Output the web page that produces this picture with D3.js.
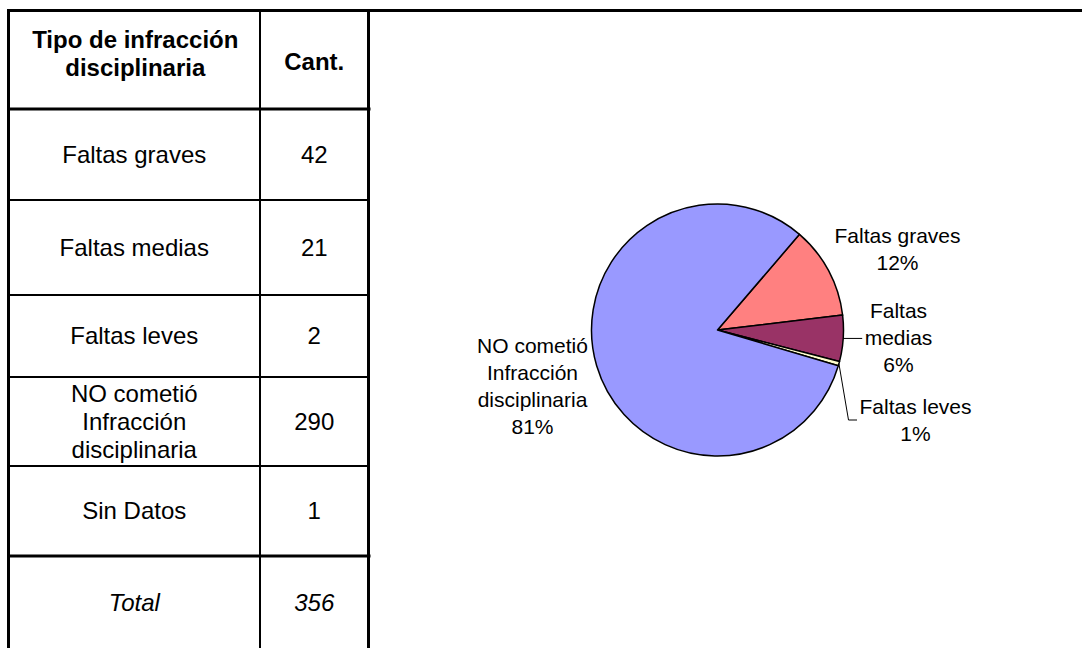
<!DOCTYPE html>
<html>
<head>
<meta charset="utf-8">
<script src="https://cdn.jsdelivr.net/npm/d3@7"></script>
<style>
  body { margin: 0; background: #fff; }
  svg text { font-family: "Liberation Sans", Arial, sans-serif; fill: #000; }
</style>
</head>
<body>
<div id="chart"></div>
<script>
// table contents
var headerCat = ["Tipo de infracción", "disciplinaria"],
    headerCount = "Cant.",
    categories = [["Faltas graves"], ["Faltas medias"], ["Faltas leves"],
      ["NO cometió", "Infracción", "disciplinaria"], ["Sin Datos"]],
    counts = [42, 21, 2, 290, 1],
    totalLabel = "Total",
    total = 356;

// pie contents (Sin Datos is left out of the pie)
var pieNames = [["Faltas graves"], ["Faltas", "medias"], ["Faltas leves"],
      ["NO cometió", "Infracción", "disciplinaria"]],
    pieValues = [42, 21, 2, 290],
    pieColors = ["#FF8080", "#993366", "#FFFFCC", "#9999FF"];

var width = 1082, height = 648;

var svg = d3.select("#chart")
  .append("svg")
  .attr("width", width)
  .attr("height", height);

//-- table --//
var tLeft = 8.5, tDiv = 260, tRight = 368.5;
// row boundaries: header, 5 categories, total
var rowEdges = [10.5, 109, 200, 295, 377, 466, 556, 657];

function cellText(lines, cx, cy, opts) {
  var lh = 28;
  var t = svg.append("text")
    .attr("text-anchor", "middle")
    .attr("font-size", 24)
    .attr("font-weight", opts && opts.bold ? "bold" : null)
    .attr("font-style", opts && opts.italic ? "italic" : null);
  lines.forEach(function(l, i) {
    t.append("tspan")
      .attr("x", cx)
      .attr("y", cy + (i - (lines.length - 1) / 2) * lh)
      .attr("dy", "0.35em")
      .text(l);
  });
}

var c1 = (tLeft + tDiv) / 2, c2 = (tDiv + tRight) / 2;
function rowMid(i) { return (rowEdges[i] + rowEdges[i + 1]) / 2; }

cellText(headerCat, c1 + 1, rowMid(0) - 6, {bold: true});
cellText([headerCount], c2, rowMid(0) + 2, {bold: true});

categories.forEach(function(c, i) {
  cellText(c, c1, rowMid(i + 1));
  cellText([String(counts[i])], c2, rowMid(i + 1));
});
cellText([totalLabel], c1, rowMid(6) - 4, {italic: true});
cellText([String(total)], c2, rowMid(6) - 4, {italic: true});

// thin row lines
for (var i = 2; i <= 5; i++) {
  svg.append("line")
    .attr("x1", tLeft).attr("x2", tRight)
    .attr("y1", rowEdges[i]).attr("y2", rowEdges[i])
    .attr("stroke", "#000").attr("stroke-width", 2);
}
// thick lines under header and above total
[1, 6].forEach(function(i) {
  svg.append("line")
    .attr("x1", tLeft).attr("x2", tRight + 2)
    .attr("y1", rowEdges[i]).attr("y2", rowEdges[i])
    .attr("stroke", "#000").attr("stroke-width", 3);
});
// column divider
svg.append("line")
  .attr("x1", tDiv).attr("x2", tDiv)
  .attr("y1", rowEdges[0]).attr("y2", height)
  .attr("stroke", "#000").attr("stroke-width", 2);
// outer frame
svg.append("line")
  .attr("x1", tLeft).attr("x2", tLeft)
  .attr("y1", 9).attr("y2", height)
  .attr("stroke", "#000").attr("stroke-width", 3);
svg.append("line")
  .attr("x1", tRight).attr("x2", tRight)
  .attr("y1", 9).attr("y2", height)
  .attr("stroke", "#000").attr("stroke-width", 3);
svg.append("line")
  .attr("x1", 7).attr("x2", width)
  .attr("y1", rowEdges[0]).attr("y2", rowEdges[0])
  .attr("stroke", "#000").attr("stroke-width", 3);

//-- pie --//
var cx = 717.5, cy = 330, r = 126;
var start = 40.6 * Math.PI / 180;

var pie = d3.pie().sort(null)
  .startAngle(start).endAngle(start + 2 * Math.PI);
var arcs = pie(pieValues);
var arc = d3.arc().innerRadius(0).outerRadius(r);

var g = svg.append("g")
  .attr("transform", "translate(" + cx + "," + cy + ")");

g.selectAll("path.slice")
  .data(arcs)
  .enter()
  .append("path")
  .attr("class", "slice")
  .attr("d", arc)
  .attr("fill", function(d, i) { return pieColors[i]; })
  .attr("stroke", "#000")
  .attr("stroke-width", 1.5)
  .attr("stroke-linejoin", "round");

// label block centres relative to the pie centre
var labelOffsets = [[180, -81], [181, 8], [198, 90], [-185, 56]];
var lh = 27;

arcs.forEach(function(d, i) {
  var lines = pieNames[i].concat([Math.round(d.data / total * 100) + "%"]);
  var off = labelOffsets[i];
  var t = g.append("text")
    .attr("text-anchor", "middle")
    .attr("font-size", 21);
  lines.forEach(function(l, k) {
    t.append("tspan")
      .attr("x", off[0])
      .attr("y", off[1] + (k - (lines.length - 1) / 2) * lh)
      .attr("dy", "0.35em")
      .text(l);
  });
});

// leader lines for the two narrow slices
function rim(d) {
  var a = (d.startAngle + d.endAngle) / 2;
  return [r * Math.sin(a), -r * Math.cos(a)];
}
var pm = rim(arcs[1]);
g.append("path")
  .attr("d", d3.line()([pm, [pm[0] + 19, pm[1]]]))
  .attr("fill", "none").attr("stroke", "#000").attr("stroke-width", 1);

var pl = rim(arcs[2]);
g.append("path")
  .attr("d", d3.line()([pl, [131, labelOffsets[2][1]], [139.5, labelOffsets[2][1]]]))
  .attr("fill", "none").attr("stroke", "#000").attr("stroke-width", 1);
</script>
</body>
</html>
